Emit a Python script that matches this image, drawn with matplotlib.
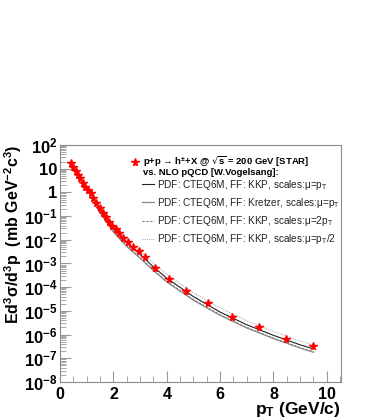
"""Inclusive charged hadron spectrum in p+p at 200 GeV vs NLO pQCD."""
import math
import matplotlib
matplotlib.use("Agg")
import matplotlib.pyplot as plt
from matplotlib.ticker import FixedLocator, LogLocator, MultipleLocator, FuncFormatter

plt.rcParams["font.family"] = ["Liberation Sans", "DejaVu Sans"]
plt.rcParams["mathtext.default"] = "regular"

# STAR data points
star_pt = [0.4, 0.5, 0.58, 0.66, 0.75, 0.85, 0.95, 1.05, 1.14, 1.25, 1.36,
           1.48, 1.6, 1.71, 1.83, 1.95, 2.08, 2.22, 2.37, 2.53, 2.73, 2.94,
           3.17, 3.55, 4.08, 4.71, 5.53, 6.45, 7.47, 8.47, 9.5]
star_y = [17.8, 12.0, 8.3, 5.6, 3.9, 2.6, 1.7, 1.26, 0.91, 0.58, 0.35,
          0.21, 0.13, 0.089, 0.055, 0.038, 0.028, 0.019, 0.012, 8.3e-3, 4.8e-3, 3.3e-3,
          1.8e-3, 6.5e-4, 2.2e-4, 7.1e-5, 2.1e-5, 5.4e-6, 2.1e-6, 6.5e-7, 3.3e-7]

# NLO pQCD curves
nlo_pt = [1.4, 1.5, 2.0, 2.5, 3.0, 3.5, 4.0, 5.0, 6.0, 7.0, 8.0, 9.0, 9.5]
kkp_mu1 = [0.30, 0.20, 3.0e-2, 7.6e-3, 2.4e-3, 7.2e-4, 2.4e-4, 4.0e-5, 8.9e-6,
           2.6e-6, 9.3e-7, 3.7e-7, 2.5e-7]
kretzer_mu1 = [0.20, 0.14, 2.1e-2, 5.2e-3, 1.66e-3, 5.0e-4, 1.66e-4, 2.8e-5, 6.5e-6,
               1.9e-6, 6.8e-7, 2.7e-7, 1.8e-7]
kkp_mu2 = [0.22, 0.15, 2.3e-2, 5.7e-3, 1.78e-3, 5.4e-4, 1.78e-4, 3.0e-5, 6.8e-6,
           2.0e-6, 7.1e-7, 2.8e-7, 1.9e-7]
kkp_mu05 = [0.36, 0.24, 4.0e-2, 1.05e-2, 3.3e-3, 1.05e-3, 3.5e-4, 5.8e-5, 1.32e-5,
            3.8e-6, 1.35e-6, 5.4e-7, 3.5e-7]

fig = plt.figure(figsize=(3.71, 4.2), dpi=100)
ax = fig.add_axes([0.162, 0.0905, 0.757, 0.5643])

ax.plot(nlo_pt, kkp_mu05, color="#b0b0b0", lw=0.8, ls=(0, (1, 1)),
        label=r"PDF: CTEQ6M, FF: KKP, scales:$\mu$=p$_T$/2")
ax.plot(nlo_pt, kkp_mu2, color="#777777", lw=0.8, ls=(0, (2, 1.5)),
        label=r"PDF: CTEQ6M, FF: KKP, scales:$\mu$=2p$_T$")
ax.plot(nlo_pt, kretzer_mu1, color="#888888", lw=0.9,
        label=r"PDF: CTEQ6M, FF: Kretzer, scales:$\mu$=p$_T$")
ax.plot(nlo_pt, kkp_mu1, color="#222222", lw=0.8,
        label=r"PDF: CTEQ6M, FF: KKP, scales:$\mu$=p$_T$")
ax.plot(star_pt, star_y, ls="none", marker="*", ms=5.8, color="red", mec="red")

ax.set_yscale("log")
ax.set_xlim(0, 10.53)
ax.set_ylim(1e-8, 1e2)


def ylab(v, pos):
    e = int(round(math.log10(v)))
    if e == 0:
        return "1"
    if e == 1:
        return "10"
    return r"10$^{%d}$" % e


ax.yaxis.set_major_locator(FixedLocator([10.0 ** e for e in range(-8, 3)]))
ax.yaxis.set_minor_locator(LogLocator(base=10, subs=range(2, 10), numticks=20))
ax.yaxis.set_major_formatter(FuncFormatter(ylab))
ax.xaxis.set_major_locator(MultipleLocator(2))
ax.xaxis.set_minor_locator(MultipleLocator(0.5))

for s in ax.spines.values():
    s.set_color("#8c8c8c")
    s.set_linewidth(0.8)
ax.tick_params(which="both", direction="in", color="#9a9a9a", top=False, right=False)
ax.tick_params(which="major", length=8, width=0.8)
ax.tick_params(which="minor", length=4, width=0.6)
ax.tick_params(axis="y", which="major", pad=2, labelsize=12)
ax.tick_params(axis="x", which="major", pad=3.5, labelsize=11.5)
for t in ax.get_xticklabels() + ax.get_yticklabels():
    t.set_fontweight("bold")

ax.set_xlabel(r"p$_T$ (GeV/c)", fontsize=12.5, fontweight="bold", loc="right", labelpad=-1)
ax.set_ylabel(r"Ed$^3\sigma$/d$^3$p  (mb GeV$^{-2}$c$^3$)", fontsize=11.5,
              fontweight="bold", loc="top", labelpad=0)

# legend block
ax.plot([0.267], [0.930], transform=ax.transAxes, marker="*", ms=5.8, color="red",
        mec="red", ls="none", clip_on=False)
ax.text(0.295, 0.930, "p+p \u2192 h$^{\\pm}$+X @ $\\sqrt{s}$ = 200 GeV [STAR]",
        transform=ax.transAxes, fontsize=6.8, fontweight="bold", va="center")
ax.text(0.295, 0.882, "vs. NLO pQCD [W.Vogelsang]:", transform=ax.transAxes,
        fontsize=6.8, fontweight="bold", va="center")
handles, labels = ax.get_legend_handles_labels()
leg = ax.legend(handles[::-1], labels[::-1], loc="upper left",
                bbox_to_anchor=(0.29, 0.862), frameon=False, fontsize=7.2,
                handlelength=1.2, handletextpad=0.35, labelspacing=0.42,
                borderaxespad=0, borderpad=0)
for t in leg.get_texts():
    t.set_color("#222222")

fig.savefig("out.png", dpi=100)
